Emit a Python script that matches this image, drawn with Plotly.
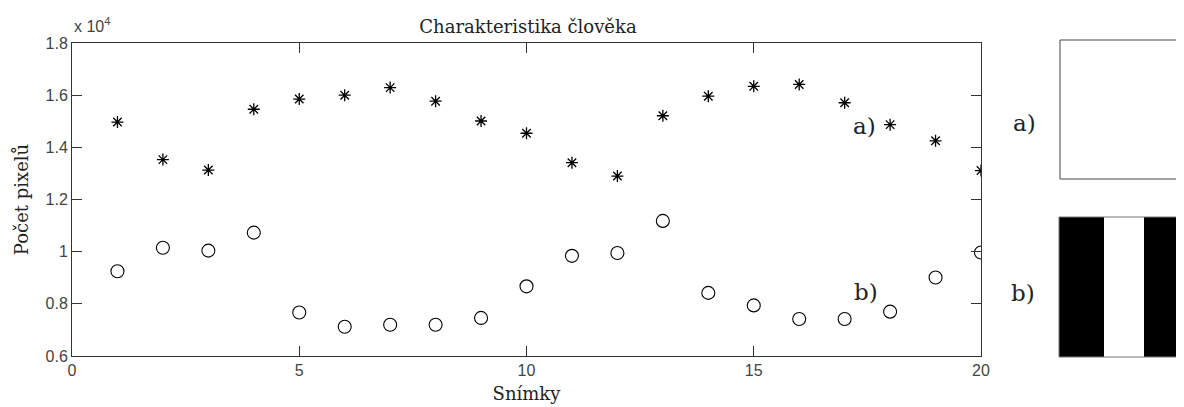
import plotly.graph_objects as go

# ---- data ----
frames = list(range(1, 21))
# a) pixel counts (asterisks)
pixels_a = [14970, 13530, 13130, 15460, 15850, 16000, 16290, 15770, 15010, 14540,
            13410, 12900, 15210, 15960, 16340, 16410, 15710, 14870, 14250, 13110]
# b) pixel counts (circles)
pixels_b = [9250, 10150, 10040, 10730, 7670, 7120, 7200, 7200, 7460, 8670,
            9840, 9950, 11180, 8420, 7940, 7420, 7420, 7700, 9010, 9970]
scale = 1e4
x_ticks = [0, 5, 10, 15, 20]
y_ticks = [0.6, 0.8, 1.0, 1.2, 1.4, 1.6, 1.8]
y_ticklabels = ["0.6", "0.8", "1", "1.2", "1.4", "1.6", "1.8"]

title_text = "Charakteristika člověka"
x_title = "Snímky"
y_title = "Počet pixelů"

SERIF = "DejaVu Serif"
SANS = "Liberation Sans, Arial"

fig = go.Figure()
fig.add_trace(go.Scatter(
    x=frames, y=[v / scale for v in pixels_a], mode="markers", name="a)",
    marker=dict(symbol="asterisk-open", size=10, color="black",
                line=dict(color="black", width=1.3)),
    cliponaxis=True))
fig.add_trace(go.Scatter(
    x=frames, y=[v / scale for v in pixels_b], mode="markers", name="b)",
    marker=dict(symbol="circle-open", size=13, color="black",
                line=dict(color="black", width=1.1)),
    cliponaxis=True))

axis_common = dict(showline=True, linecolor="#333", linewidth=1, mirror="ticks",
                   ticks="inside", ticklen=10, tickcolor="#333", tickwidth=1,
                   showgrid=False, zeroline=False, automargin=False,
                   tickfont=dict(family=SANS, size=16, color="#444"))
fig.update_xaxes(range=[0, 20], tickvals=x_ticks, **axis_common,
                 title=dict(text=x_title, font=dict(family=SERIF, size=18, color="#222"),
                            standoff=9))
fig.update_yaxes(range=[0.6, 1.8], tickvals=y_ticks, ticktext=y_ticklabels, **axis_common,
                 title=dict(text=y_title, font=dict(family=SERIF, size=18, color="#222"),
                            standoff=12))

# page has an 8px body margin; figure is sized to fit the 1184x407 window
OX, OY = 8, 8
W, H = 1184 - OX, 407 - OY
L, R, T, B = 64, 203, 35, 51
pw, ph = W - L - R, H - T - B

def px(x):
    """page pixel x -> paper x"""
    return (x - OX - L) / pw

def py(y):
    """page pixel y -> paper y"""
    return (H - B - (y - OY)) / ph

shapes = []
# panel a): white frame
shapes.append(dict(type="rect", xref="paper", yref="paper",
                   x0=px(1060), x1=px(1200), y0=py(179), y1=py(40),
                   line=dict(color="#444", width=1), fillcolor="white"))
# panel b): black / white / black stripes
stripe_edges = [1059, 1104, 1144, 1200]
stripe_fill = ["black", "white", "black"]
for i, c in enumerate(stripe_fill):
    shapes.append(dict(type="rect", xref="paper", yref="paper",
                       x0=px(stripe_edges[i]), x1=px(stripe_edges[i + 1]),
                       y0=py(357), y1=py(217),
                       line=dict(width=0), fillcolor=c))
shapes.append(dict(type="rect", xref="paper", yref="paper",
                   x0=px(1059), x1=px(1200), y0=py(357), y1=py(217),
                   line=dict(color="#777", width=1), fillcolor="rgba(0,0,0,0)"))

label_font = dict(family=SERIF, size=23, color="#222")
annotations = [
    dict(text="x 10<sup>4</sup>", xref="paper", yref="paper", x=0, y=py(25),
         xanchor="left", yanchor="middle", showarrow=False,
         font=dict(family=SANS, size=16, color="#444")),
    dict(text="a)", xref="x", yref="y", x=17.43, y=1.48, showarrow=False,
         xanchor="center", yanchor="middle", font=label_font),
    dict(text="b)", xref="x", yref="y", x=17.47, y=0.845, showarrow=False,
         xanchor="center", yanchor="middle", font=label_font),
    dict(text="a)", xref="paper", yref="paper", x=px(1024), y=py(123), showarrow=False,
         xanchor="center", yanchor="middle", font=label_font),
    dict(text="b)", xref="paper", yref="paper", x=px(1023), y=py(293), showarrow=False,
         xanchor="center", yanchor="middle", font=label_font),
]

fig.update_layout(
    width=W, height=H,
    margin=dict(l=L, r=R, t=T, b=B),
    paper_bgcolor="white", plot_bgcolor="white",
    showlegend=False,
    title=dict(text=title_text, x=px(528), xanchor="center", xref="paper",
               y=1 - (27 - OY) / H, yanchor="middle", yref="container",
               font=dict(family=SERIF, size=18, color="#222")),
    shapes=shapes,
    annotations=annotations,
)

fig.write_html("out.html")
